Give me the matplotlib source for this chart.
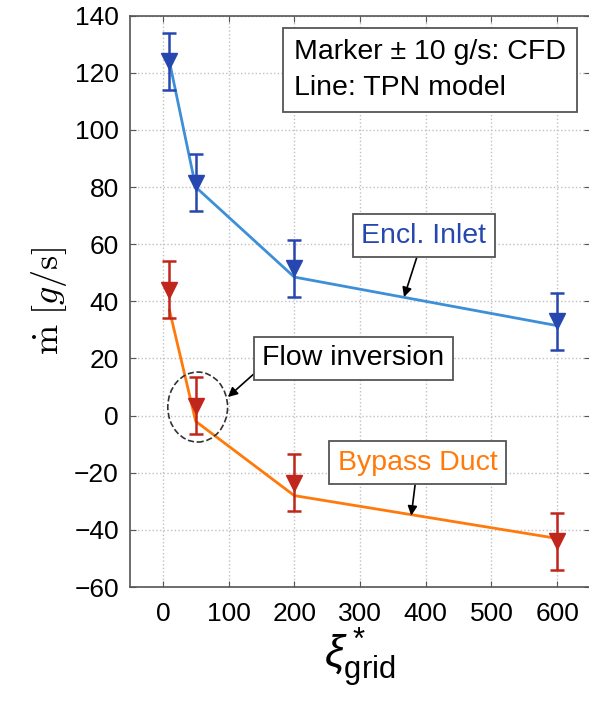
import matplotlib.pyplot as plt
from matplotlib.patches import Ellipse

plt.rcParams['font.family'] = ['Liberation Sans', 'DejaVu Sans']
plt.rcParams['mathtext.fontset'] = 'custom'
plt.rcParams['mathtext.rm'] = 'Liberation Sans'
plt.rcParams['mathtext.it'] = 'Liberation Sans:italic'

# CFD markers (+/- 10 g/s)
x_cfd = [10, 50, 200, 600]
inlet_cfd = [124, 81.5, 51.5, 33]
bypass_cfd = [44, 3.5, -23.5, -44]
err = 10

# TPN model lines
x_tpn = [10, 50, 200, 600]
inlet_tpn = [124, 80, 48.5, 31.5]
bypass_tpn = [37, -2, -28, -43]

xticks = [0, 100, 200, 300, 400, 500, 600]
yticks = [-60, -40, -20, 0, 20, 40, 60, 80, 100, 120, 140]

blue_line = '#3d8fd8'
blue_mark = '#2747b0'
orange_line = '#ff7a0a'
red_mark = '#c0261c'

fig = plt.figure(figsize=(5.89, 7.13), dpi=100)
ax = fig.add_axes([0.2207, 0.1767, 0.781, 0.8013])

ax.plot(x_tpn, inlet_tpn, color=blue_line, lw=2, zorder=3)
ax.plot(x_tpn, bypass_tpn, color=orange_line, lw=2, zorder=3)
ax.errorbar(x_cfd, inlet_cfd, yerr=err, fmt='v', color=blue_mark, ms=12,
            capsize=5, elinewidth=1.8, capthick=1.8, zorder=4)
ax.errorbar(x_cfd, bypass_cfd, yerr=err, fmt='v', color=red_mark, ms=12,
            capsize=5, elinewidth=1.8, capthick=1.8, zorder=4)

ax.set_xlim(-50, 650)
ax.set_ylim(-60, 140)
ax.set_xticks(xticks)
ax.set_yticks(yticks)
ax.grid(True, color='#c0c0c0', ls=':', lw=1)
ax.tick_params(direction='in', labelsize=19, top=True, right=True, length=4,
               color='#555555')
ax.tick_params(axis='x', pad=11)
ax.tick_params(axis='y', pad=8)
for s in ax.spines.values():
    s.set_color('#555555')
    s.set_linewidth(1.2)

ax.set_ylabel(r'$\dot{\mathrm{m}}\ [g/\mathrm{s}]$', fontsize=26,
              math_fontfamily='cm', labelpad=4)
ax.set_xlabel(r'$\xi^*_{\mathrm{grid}}$', fontsize=32, labelpad=0)

box = dict(boxstyle='square,pad=0.3', fc='white', ec='#555555', lw=1.3)
ax.text(0.652, 0.905, 'Marker ± 10 g/s: CFD\nLine: TPN model', transform=ax.transAxes,
        ha='center', va='center', multialignment='left', fontsize=20.5,
        linespacing=1.5, bbox=dict(box, boxstyle='square,pad=0.4'), zorder=6)

arrow = dict(arrowstyle='-|>', color='black', lw=1.2, mutation_scale=14,
             shrinkA=0, shrinkB=0)
ax.annotate('Encl. Inlet', xy=(367, 41.5), xytext=(397, 63), color=blue_mark,
            fontsize=20.5, ha='center', va='center', bbox=box, arrowprops=arrow, zorder=6)
ax.annotate('Bypass Duct', xy=(378, -35), xytext=(388, -16.5), color=orange_line,
            fontsize=20.5, ha='center', va='center', bbox=box, arrowprops=arrow, zorder=6)
ax.annotate('Flow inversion', xy=(99, 6.5), xytext=(290, 20), color='black',
            fontsize=20.5, ha='center', va='center', bbox=box,
            arrowprops=dict(arrow, relpos=(0, 0.2)), zorder=6)
ax.add_patch(Ellipse((53, 3), 91, 24.5, fill=False, ls='--', ec='#333333', lw=1.2, zorder=5))

fig.savefig('out.png', dpi=100)
